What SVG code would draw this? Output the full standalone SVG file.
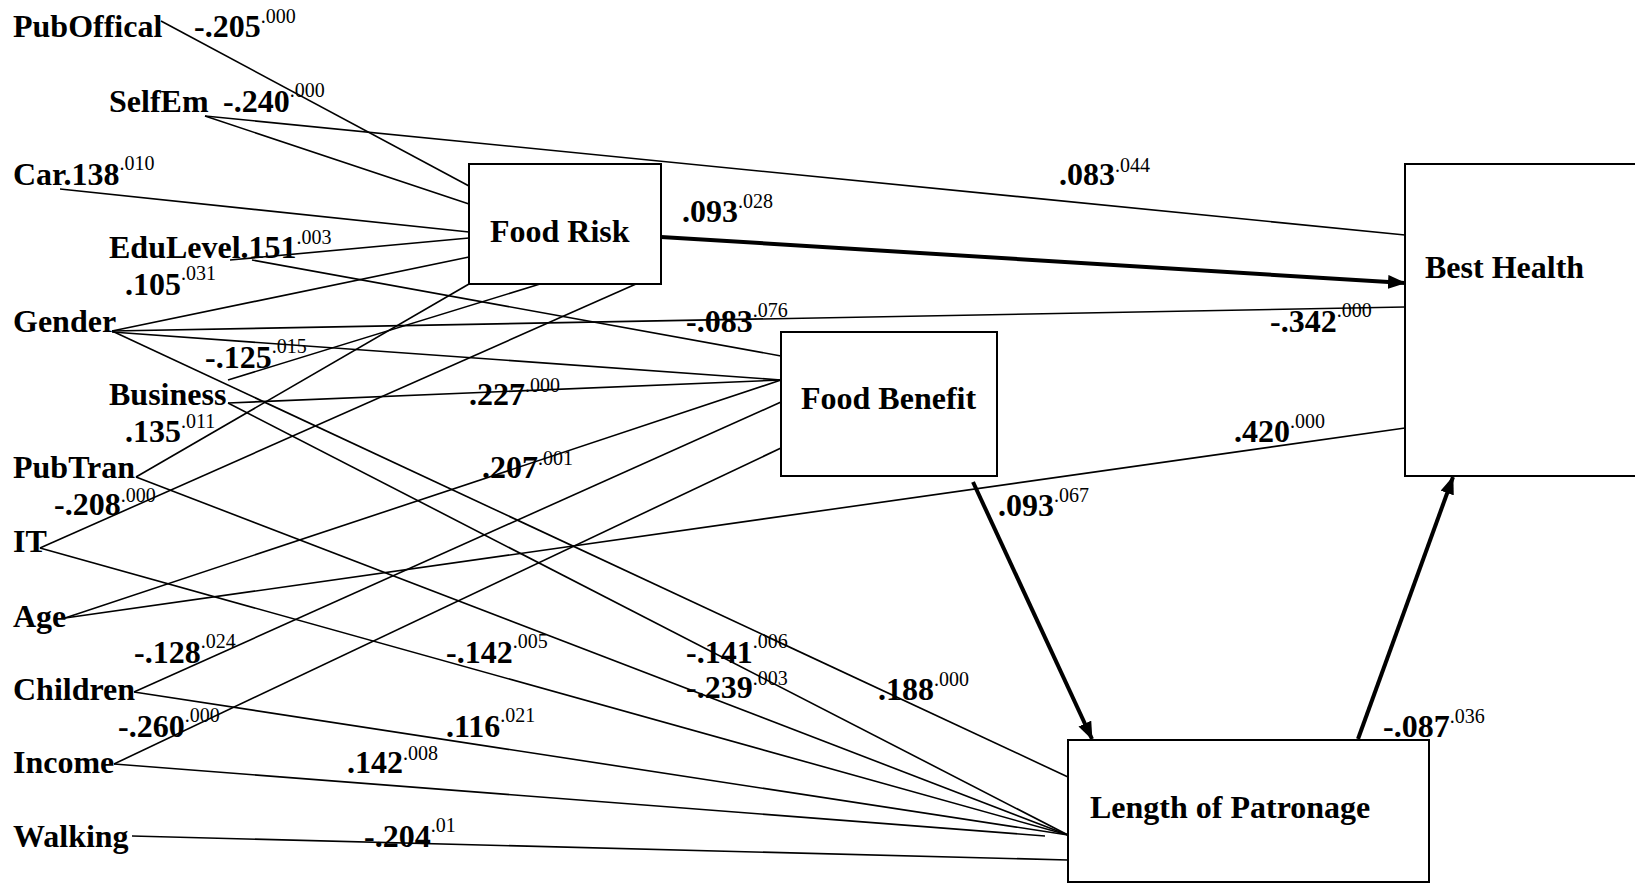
<svg xmlns="http://www.w3.org/2000/svg" width="1635" height="884" viewBox="0 0 1635 884">
<style>
text{font-family:"Liberation Serif","Times New Roman",serif;fill:#000}
.b{font-weight:bold;font-size:32px}
.p{font-weight:normal;font-size:20px}
.box{fill:#fff;stroke:#000;stroke-width:2}
.ln{stroke:#000;stroke-width:1.6;fill:none}
.th{stroke:#000;stroke-width:4;fill:none;marker-end:url(#ah)}
</style>
<defs>
<marker id="ah" viewBox="0 0 18 14" refX="17" refY="7" markerWidth="18" markerHeight="14" markerUnits="userSpaceOnUse" orient="auto">
<path d="M0,0 L18,7 L0,14 Z" fill="#000"/>
</marker>
</defs>
<rect width="1635" height="884" fill="#fff"/>
<g id="connectors">
<line class="ln" x1="161" y1="21" x2="469" y2="186"/>
<line class="ln" x1="205" y1="116" x2="469" y2="204"/>
<line class="ln" x1="205" y1="116" x2="1405" y2="235"/>
<line class="ln" x1="60" y1="189" x2="469" y2="232"/>
<line class="ln" x1="230" y1="260" x2="469" y2="238"/>
<line class="ln" x1="252" y1="260" x2="781" y2="356"/>
<line class="ln" x1="112" y1="331" x2="469" y2="257"/>
<line class="ln" x1="112" y1="331" x2="1405" y2="307"/>
<line class="ln" x1="112" y1="332" x2="781" y2="380"/>
<line class="ln" x1="112" y1="331" x2="1068" y2="777"/>
<line class="ln" x1="228" y1="380" x2="540" y2="284"/>
<line class="ln" x1="228" y1="403" x2="781" y2="380"/>
<line class="ln" x1="228" y1="403" x2="1068" y2="835"/>
<line class="ln" x1="136" y1="477" x2="469" y2="284"/>
<line class="ln" x1="136" y1="477" x2="1068" y2="835"/>
<line class="ln" x1="40" y1="548" x2="636" y2="284"/>
<line class="ln" x1="40" y1="548" x2="1068" y2="835"/>
<line class="ln" x1="65" y1="618" x2="781" y2="380"/>
<line class="ln" x1="65" y1="618" x2="1405" y2="428"/>
<line class="ln" x1="134" y1="692" x2="781" y2="402"/>
<line class="ln" x1="134" y1="692" x2="1068" y2="835"/>
<line class="ln" x1="114" y1="764" x2="781" y2="448"/>
<line class="ln" x1="114" y1="764" x2="1045" y2="836"/>
<line class="ln" x1="132" y1="836" x2="1068" y2="860"/>
<line class="th" x1="661" y1="237" x2="1405" y2="283"/>
<line class="th" x1="973" y1="482" x2="1092" y2="739"/>
<line class="th" x1="1358" y1="739" x2="1453" y2="477"/>
</g>
<g id="food-risk"><rect class="box" x="469" y="164" width="192" height="120"/><text class="b" x="490" y="242">Food Risk</text></g>
<g id="food-benefit"><rect class="box" x="781" y="332" width="216" height="144"/><text class="b" x="801" y="409">Food Benefit</text></g>
<g id="best-health"><rect class="box" x="1405" y="164" width="240" height="312"/><text class="b" x="1425" y="278">Best Health</text></g>
<g id="length-of-patronage"><rect class="box" x="1068" y="740" width="361" height="142"/><text class="b" x="1090" y="818">Length of Patronage</text></g>
<g id="puboffical"><text class="b" x="13" y="37">PubOffical</text></g>
<g id="selfem"><text class="b" x="109" y="112">SelfEm</text></g>
<g id="car"><text class="b" x="13" y="185">Car.138<tspan class="p" dy="-15">.010</tspan></text></g>
<g id="edulevel"><text class="b" x="109" y="258">EduLevel.151<tspan class="p" dy="-14">.003</tspan></text></g>
<g id="gender"><text class="b" x="13" y="332">Gender</text></g>
<g id="business"><text class="b" x="109" y="405">Business</text></g>
<g id="pubtran"><text class="b" x="13" y="478">PubTran</text></g>
<g id="it"><text class="b" x="13" y="552">IT</text></g>
<g id="age"><text class="b" x="13" y="627">Age</text></g>
<g id="children"><text class="b" x="13" y="700">Children</text></g>
<g id="income"><text class="b" x="13" y="773">Income</text></g>
<g id="walking"><text class="b" x="13" y="847">Walking</text></g>
<g id="coefficients">
<text class="b" x="194" y="37">-.205<tspan class="p" dy="-14">.000</tspan></text>
<text class="b" x="223" y="112">-.240<tspan class="p" dy="-15">.000</tspan></text>
<text class="b" x="125" y="295">.105<tspan class="p" dy="-15">.031</tspan></text>
<text class="b" x="205" y="368">-.125<tspan class="p" dy="-15">.015</tspan></text>
<text class="b" x="125" y="442">.135<tspan class="p" dy="-14">.011</tspan></text>
<text class="b" x="54" y="515">-.208<tspan class="p" dy="-13">.000</tspan></text>
<text class="b" x="134" y="663">-.128<tspan class="p" dy="-15">.024</tspan></text>
<text class="b" x="118" y="737">-.260<tspan class="p" dy="-15">.000</tspan></text>
<text class="b" x="469" y="405">.227<tspan class="p" dy="-13">.000</tspan></text>
<text class="b" x="482" y="478">.207<tspan class="p" dy="-13">.001</tspan></text>
<text class="b" x="446" y="663">-.142<tspan class="p" dy="-15">.005</tspan></text>
<text class="b" x="446" y="737">.116<tspan class="p" dy="-15">.021</tspan></text>
<text class="b" x="347" y="773">.142<tspan class="p" dy="-13">.008</tspan></text>
<text class="b" x="364" y="847">-.204<tspan class="p" dy="-15">.01</tspan></text>
<text class="b" x="686" y="663">-.141<tspan class="p" dy="-15">.006</tspan></text>
<text class="b" x="686" y="698">-.239<tspan class="p" dy="-13">.003</tspan></text>
<text class="b" x="878" y="700">.188<tspan class="p" dy="-14">.000</tspan></text>
<text class="b" x="682" y="222">.093<tspan class="p" dy="-14">.028</tspan></text>
<text class="b" x="686" y="332">-.083<tspan class="p" dy="-15">.076</tspan></text>
<text class="b" x="1059" y="185">.083<tspan class="p" dy="-13">.044</tspan></text>
<text class="b" x="1270" y="332">-.342<tspan class="p" dy="-15">.000</tspan></text>
<text class="b" x="1234" y="442">.420<tspan class="p" dy="-14">.000</tspan></text>
<text class="b" x="998" y="516">.093<tspan class="p" dy="-14">.067</tspan></text>
<text class="b" x="1383" y="737">-.087<tspan class="p" dy="-14">.036</tspan></text>
</g>
</svg>
